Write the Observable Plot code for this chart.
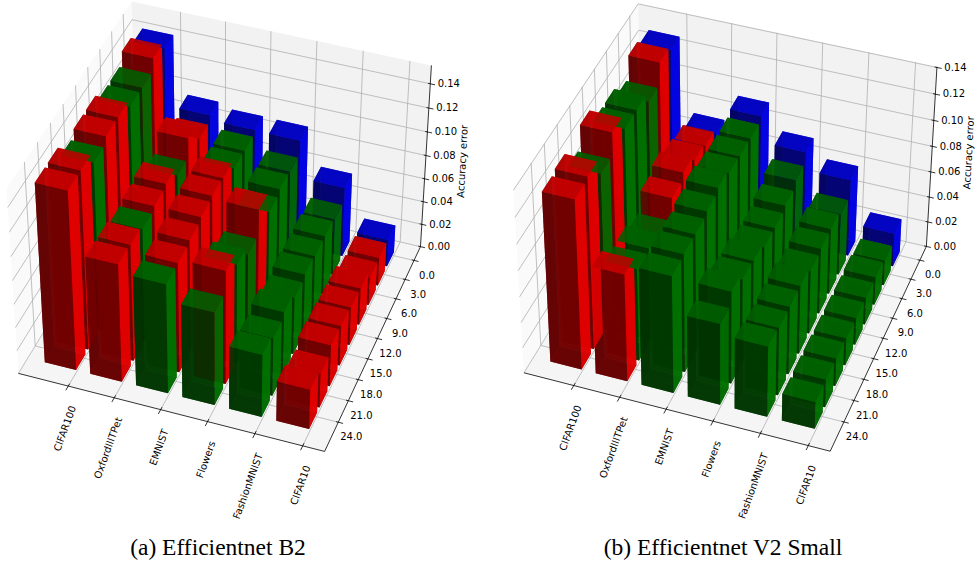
<!DOCTYPE html>
<html>
<head>
<meta charset="utf-8">
<script src="https://cdn.jsdelivr.net/npm/d3@7"></script>
<script src="https://cdn.jsdelivr.net/npm/@observablehq/plot@0.6"></script>
<style>
  html, body { margin: 0; padding: 0; background: #fff; }
  #fig { display: flex; width: 975px; }
  .panel { flex: none; }
  .panel svg { display: block; background: transparent; }
  .cap { font-family: "Liberation Serif", serif; font-size: 23.5px; color: #000; text-align: center; line-height: 34px; }
</style>
</head>
<body>
<div id="fig"></div>
<script>
// ---- values ----
const datasets = ["CIFAR100", "OxfordIIITPet", "EMNIST", "Flowers", "FashionMNIST", "CIFAR10"];
const epochs = [0, 3, 6, 9, 12, 15, 18, 21, 24];
const errorTicks = [0, 0.02, 0.04, 0.06, 0.08, 0.10, 0.12, 0.14];

const errorsB2 = [
  [.1435, .150, .1407, .1405, .147, .147, .1415, .151, .151],
  [.096, .0915, .1074, .092, .101, .0987, .096, .0996, .1004],
  [.092, .090, .091, .0986, .100, .0987, .096, .094, .0934],
  [.0916, .081, .0823, .079, .0975, .0768, .085, .097, .0797],
  [.060, .049, .0512, .0507, .052, .049, .0546, .050, .054],
  [.0236, .0245, .0245, .032, .033, .0346, .036, .0295, .0344]
];
const coloursB2 = ["brggrrgrr", "brrgrrgrr", "bggrrrrrg", "bgggrggrg", "bgggggggg", "brrrrrrrr"];

const errorsV2 = [
  [.130, .134, .118, .1255, .1255, .137, .1205, .133, .131],
  [.0733, .078, .081, .086, .081, .067, .0725, .0718, .0835],
  [.0945, .0915, .092, .0935, .097, .094, .0917, .092, .091],
  [.0745, .067, .062, .0595, .0598, .0646, .066, .0723, .0634],
  [.0605, .0485, .052, .0517, .050, .054, .0535, .0534, .0553],
  [.0263, .020, .0223, .0215, .0215, .0215, .022, .022, .0213]
];
const coloursV2 = ["brgggrgrr", "brrrrgggr", "bgggggggg", "bgggggggg", "bgggggggg", "bgggggggg"];

const captions = ["(a) Efficientnet B2", "(b) Efficientnet V2 Small"];

// ---- view of each panel: box limits, and where the box corners land on the canvas ----
const xLim = [-1.095, 5.455], yLim = [-2.2, 28.0];
const barX = [-0.72, -0.03], barY = [-0.55, 1.75];
const baseRGB = {r: [255, 0, 0], g: [0, 128, 0], b: [0, 0, 255]};
const faceShade = {top: .74, bottom: .533, right: .883, left: .39, front: .39, back: .883};
const alpha = 0.87;
// how much nearer to the viewer one whole box length along x, y and z is
const nearness = {x: 71, y: 193, z: 198};

const panelConfigs = [
  {width: 487, zMax: .155, errors: errorsB2, colours: coloursB2, caption: captions[0], capWidth: 436,
   view: {A: [18, 373], B: [324, 451], C: [420, 246], D: [431, 65], E: [6, 188], F: [131, 1]}},
  {width: 488, zMax: .1405, errors: errorsV2, colours: coloursV2, caption: captions[1], capWidth: 472,
   view: {A: [37, 373], B: [342, 451], C: [439, 245], D: [450, 67], E: [26, 188], F: [150, 3]}}
];

function solve(M, b) {
  const n = b.length, a = M.map((r, i) => [...r, b[i]]);
  for (let c = 0; c < n; c++) {
    let p = c;
    for (let r = c + 1; r < n; r++) if (Math.abs(a[r][c]) > Math.abs(a[p][c])) p = r;
    [a[c], a[p]] = [a[p], a[c]];
    for (let r = 0; r < n; r++) {
      if (r === c) continue;
      const f = a[r][c] / a[c][c];
      for (let k = c; k < n + 1; k++) a[r][k] -= f * a[c][k];
    }
  }
  return a.map((r, i) => r[n] / r[i]);
}

function makeCamera(view) {
  const corners = [
    [[0, 1, 0], view.A], [[1, 1, 0], view.B], [[1, 0, 0], view.C],
    [[1, 0, 1], view.D], [[0, 1, 1], view.E], [[0, 0, 1], view.F]
  ];
  const rows = [], rhs = [];
  for (const [[X, Y, Z], [u, v]] of corners) {
    rows.push([X, Y, Z, 1, 0, 0, 0, 0, -u * X, -u * Y, -u * Z]); rhs.push(u);
    rows.push([0, 0, 0, 0, X, Y, Z, 1, -v * X, -v * Y, -v * Z]); rhs.push(v);
  }
  const n = 11;
  const AtA = d3.range(n).map(i => d3.range(n).map(j => d3.sum(rows, r => r[i] * r[j])));
  const Atb = d3.range(n).map(i => d3.sum(rows, (r, k) => r[i] * rhs[k]));
  return solve(AtA, Atb);
}

function drawPanel(cfg) {
  const p = makeCamera(cfg.view);
  const norm = (x, y, z) => [(x - xLim[0]) / (xLim[1] - xLim[0]), (y - yLim[0]) / (yLim[1] - yLim[0]), z / cfg.zMax];
  const project = (x, y, z) => {
    const [X, Y, Z] = norm(x, y, z);
    const w = p[8] * X + p[9] * Y + p[10] * Z + 1;
    return {x: (p[0] * X + p[1] * Y + p[2] * Z + p[3]) / w, y: (p[4] * X + p[5] * Y + p[6] * Z + p[7]) / w};
  };
  const nearnessOf = (x, y, z) => {
    const [X, Y, Z] = norm(x, y, z);
    return nearness.x * X + nearness.y * Y + nearness.z * Z;
  };
  const [x0, x1] = xLim, [y0, y1] = yLim, zM = cfg.zMax;

  // panes
  const panes = [
    {fill: "#fafafa", pts: [[x0, y0, 0], [x0, y1, 0], [x0, y1, zM], [x0, y0, zM]]},
    {fill: "#f2f2f2", pts: [[x0, y0, 0], [x1, y0, 0], [x1, y0, zM], [x0, y0, zM]]},
    {fill: "#f5f5f5", pts: [[x0, y0, 0], [x1, y0, 0], [x1, y1, 0], [x0, y1, 0]]}
  ].flatMap((f, i) => f.pts.map(q => ({id: i, fill: f.fill, ...project(...q)})));

  // grid and axes
  const seg = (a, b) => { const s = project(...a), e = project(...b); return {x1: s.x, y1: s.y, x2: e.x, y2: e.y}; };
  const grid = [];
  datasets.forEach((_, i) => {
    grid.push(seg([i, y1, 0], [i, y0, 0]), seg([i, y0, 0], [i, y0, zM]));
  });
  epochs.forEach(e => {
    grid.push(seg([x1, e, 0], [x0, e, 0]), seg([x0, e, 0], [x0, e, zM]));
  });
  errorTicks.forEach(z => {
    grid.push(seg([x1, y0, z], [x0, y0, z]), seg([x0, y0, z], [x0, y1, z]));
  });
  const axes = [seg([x0, y1, 0], [x1, y1, 0]), seg([x1, y1, 0], [x1, y0, 0]), seg([x1, y0, 0], [x1, y0, zM])];
  datasets.forEach((_, i) => axes.push(seg([i, y1 - .35, 0], [i, y1 + .6, 0])));
  epochs.forEach(e => axes.push(seg([x1 - .05, e, 0], [x1 + .1, e, 0])));
  errorTicks.forEach(z => axes.push(seg([x1 - .05, y0, z], [x1 + .1, y0, z])));

  // bars: six faces each, painted far to near by mean nearness
  const faces = [];
  cfg.errors.forEach((row, i) => row.forEach((err, j) => {
    const xa = i + barX[0], xb = i + barX[1], ya = epochs[j] + barY[0], yb = epochs[j] + barY[1];
    const rgb = baseRGB[cfg.colours[i][j]];
    const quads = {
      top: [[xa, ya, err], [xb, ya, err], [xb, yb, err], [xa, yb, err]],
      bottom: [[xa, ya, 0], [xb, ya, 0], [xb, yb, 0], [xa, yb, 0]],
      front: [[xa, yb, 0], [xb, yb, 0], [xb, yb, err], [xa, yb, err]],
      back: [[xa, ya, 0], [xb, ya, 0], [xb, ya, err], [xa, ya, err]],
      right: [[xb, ya, 0], [xb, yb, 0], [xb, yb, err], [xb, ya, err]],
      left: [[xa, ya, 0], [xa, yb, 0], [xa, yb, err], [xa, ya, err]]
    };
    for (const [name, q] of Object.entries(quads)) {
      const s = faceShade[name];
      faces.push({
        id: `${i}-${j}-${name}`,
        fill: `rgb(${rgb.map(v => Math.round(v * s)).join(",")})`,
        order: d3.mean(q, c => nearnessOf(...c)),
        pts: q.map(c => project(...c))
      });
    }
  }));
  faces.sort((a, b) => a.order - b.order);
  const facePts = faces.flatMap(f => f.pts.map(q => ({id: f.id, fill: f.fill, x: q.x, y: q.y})));

  // labels
  const xLabels = datasets.map((name, i) => { const q = project(i, y1, 0); return {name, x: q.x + 5, y: q.y + 20}; });
  const yLabels = epochs.map(e => { const q = project(x1, e, 0); return {name: e.toFixed(1), x: q.x + 13, y: q.y + 15}; });
  const zLabels = errorTicks.map(z => { const q = project(x1, y0, z); return {name: z.toFixed(2), x: q.x + 18.5, y: q.y}; });
  const topAxis = project(x1, y0, .075);

  const H = 530;
  const textOpts = {fontFamily: "DejaVu Sans", fontSize: 10, fill: "#000"};
  const svg = Plot.plot({
    width: cfg.width, height: H, margin: 0,
    x: {domain: [0, cfg.width], range: [0, cfg.width], axis: null},
    y: {domain: [0, H], range: [0, H], axis: null},
    style: {background: "transparent", overflow: "visible"},
    marks: [
      Plot.line(panes, {x: "x", y: "y", z: "id", fill: "fill", stroke: "none"}),
      Plot.link(grid, {x1: "x1", y1: "y1", x2: "x2", y2: "y2", stroke: "#b0b0b0", strokeWidth: 0.8}),
      Plot.link(axes, {x1: "x1", y1: "y1", x2: "x2", y2: "y2", stroke: "#000", strokeWidth: 0.8}),
      Plot.line(facePts, {x: "x", y: "y", z: "id", fill: "fill", fillOpacity: alpha, stroke: "none"}),
      Plot.text(xLabels, {x: "x", y: "y", text: "name", rotate: -70, textAnchor: "end", ...textOpts}),
      Plot.text(yLabels, {x: "x", y: "y", text: "name", ...textOpts}),
      Plot.text(zLabels, {x: "x", y: "y", text: "name", ...textOpts}),
      Plot.text([{x: topAxis.x + 37, y: topAxis.y, t: "Accuracy error"}], {x: "x", y: "y", text: "t", rotate: -87, ...textOpts})
    ]
  });
  const div = document.createElement("div");
  div.className = "panel";
  div.style.width = cfg.width + "px";
  div.appendChild(svg);
  const cap = document.createElement("div");
  cap.className = "cap";
  cap.style.width = cfg.capWidth + "px";
  cap.textContent = cfg.caption;
  div.appendChild(cap);
  document.getElementById("fig").appendChild(div);
}

panelConfigs.forEach(drawPanel);
</script>
</body>
</html>
